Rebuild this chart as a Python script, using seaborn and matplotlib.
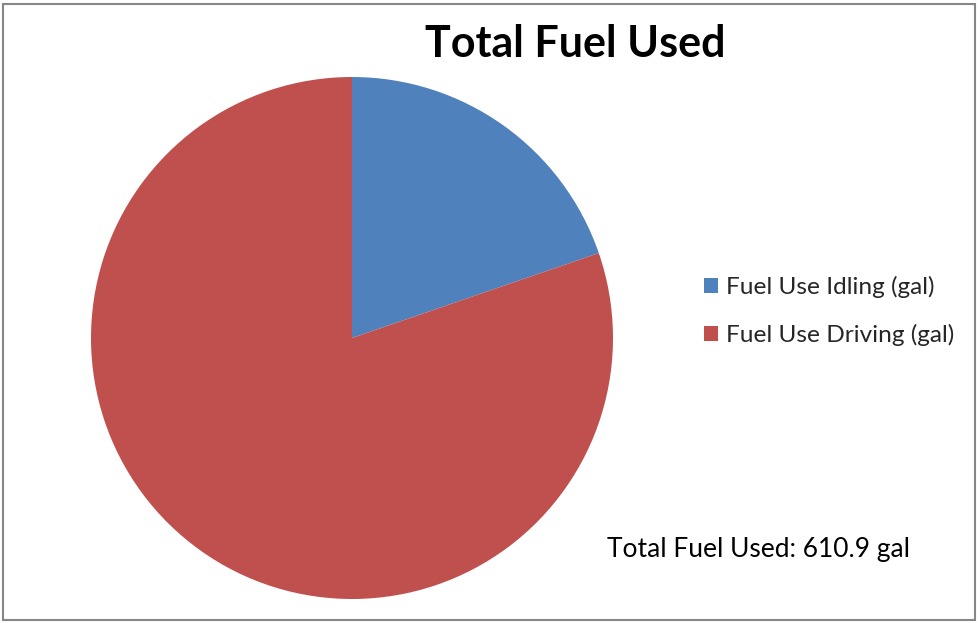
import matplotlib
matplotlib.use("Agg")
import matplotlib.pyplot as plt
import seaborn as sns
from matplotlib.patches import Rectangle

categories = ["Fuel Use Idling (gal)", "Fuel Use Driving (gal)"]
values = [120.5, 490.4]
colors = ["#4F81BD", "#C0504D"]
title = "Total Fuel Used"
total_label = "Total Fuel Used: 610.9 gal"

sns.set_theme(style="white")
plt.rcParams["font.family"] = ["Lato", "DejaVu Sans"]

W, H = 980, 623
fig = plt.figure(figsize=(W / 100, H / 100), dpi=100)
fig.patch.set_facecolor("white")

cx, cy, r = 352, 338, 261
ax = fig.add_axes([(cx - r) / W, (H - cy - r) / H, 2 * r / W, 2 * r / H])
wedges, _ = ax.pie(values, colors=colors, startangle=90, counterclock=False,
                   wedgeprops=dict(linewidth=0))
ax.set_aspect("equal")
ax.set_xlim(-1, 1)
ax.set_ylim(-1, 1)
ax.axis("off")

fig.text(575 / W, 1 - 44 / H, title, ha="center", va="center",
         fontsize=31, fontweight="bold", color="black")

leg = fig.legend(wedges, categories, loc="center left",
                 bbox_to_anchor=(704 / W, 1 - 311 / H), frameon=False,
                 fontsize=17.6, handlelength=0.58, handleheight=0.58,
                 handletextpad=0.33, labelspacing=1.08,
                 borderpad=0, borderaxespad=0)

fig.text(607 / W, 1 - 550 / H, total_label, ha="left", va="center",
         fontsize=19, color="black")

border = Rectangle((2.5 / W, 3.5 / H), (975 - 2.5) / W, (619 - 3.5) / H,
                   transform=fig.transFigure, fill=False,
                   edgecolor="#868686", linewidth=1.5)
fig.patches.append(border)

fig.savefig("out.png", dpi=100)
